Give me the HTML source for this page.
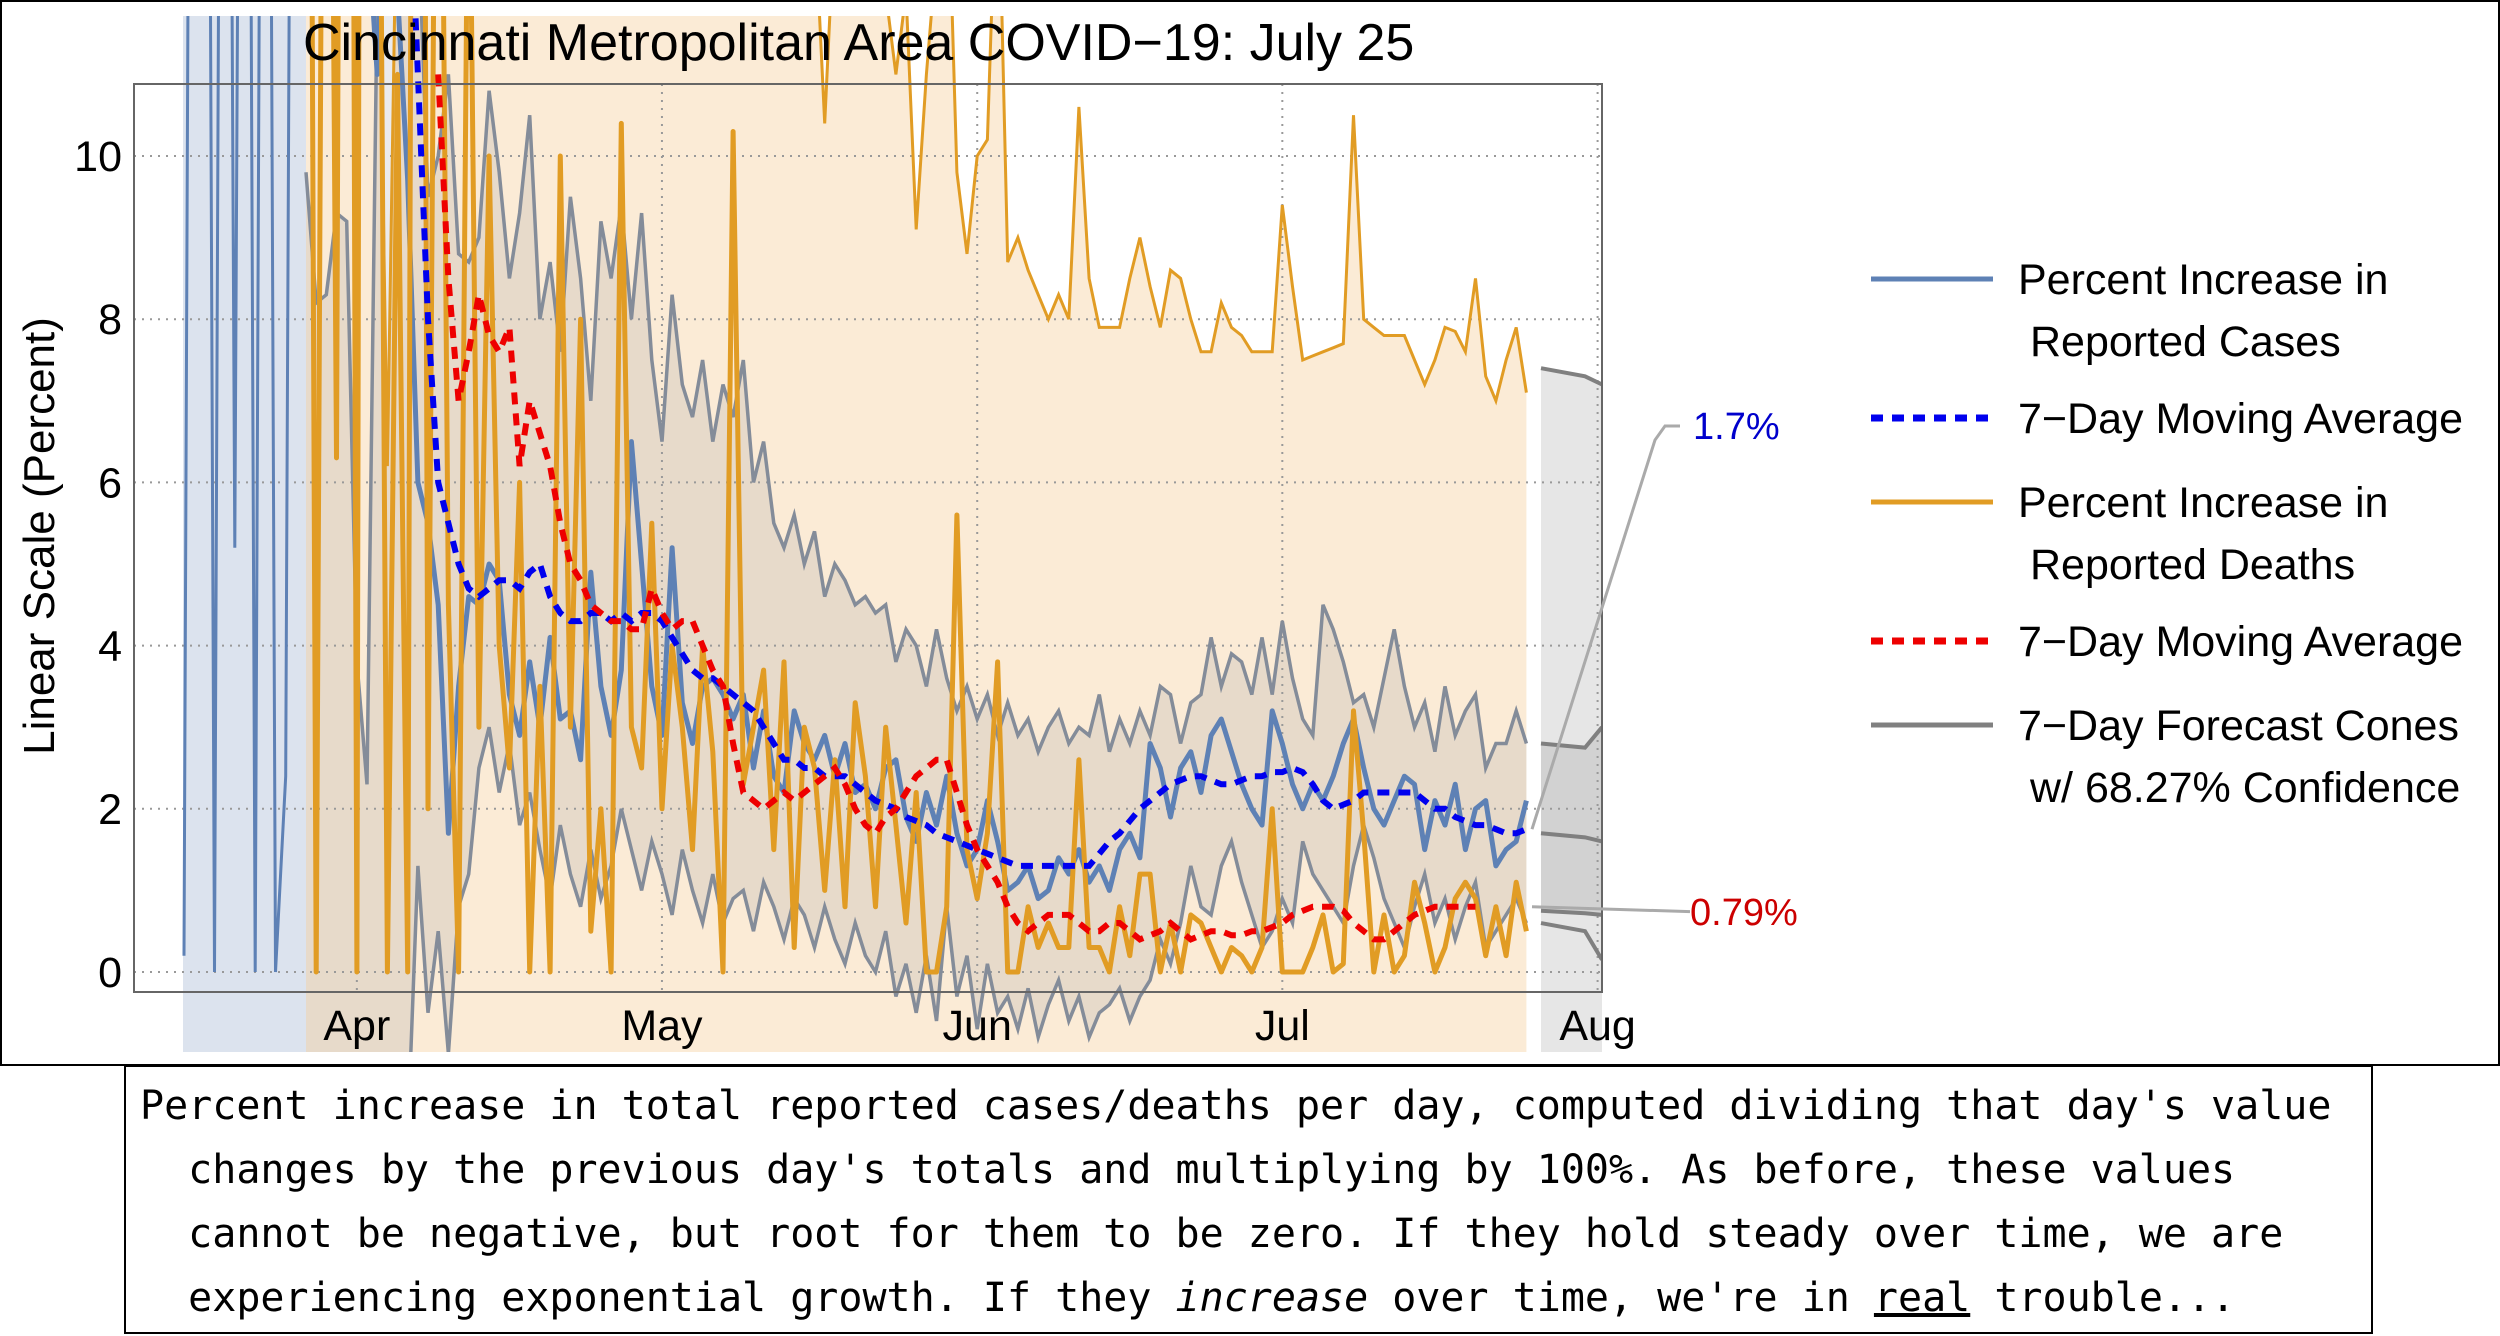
<!DOCTYPE html>
<html><head><meta charset="utf-8"><style>
body{margin:0;background:#fff;width:2500px;height:1336px;overflow:hidden;position:relative}
svg{position:absolute;left:0;top:0}
#cap{position:absolute;left:124px;top:1065px;width:2249px;height:269px;border:2px solid #000;box-sizing:border-box;font-family:"DejaVu Sans Mono","Liberation Mono",monospace;font-size:40px;line-height:64px;color:#000;padding:7px 0 0 14px;white-space:pre}
</style></head><body>
<svg id="chart" width="2500" height="1066"></svg>
<div id="cap">Percent increase in total reported cases/deaths per day, computed dividing that day's value
  changes by the previous day's totals and multiplying by 100%. As before, these values
  cannot be negative, but root for them to be zero. If they hold steady over time, we are
  experiencing exponential growth. If they <i>increase</i> over time, we're in <u>real</u> trouble...</div>
<script>
// data: day 0 = Mar 27
const earlyCases=[0.2,30,30,0,30,5.2,30,0,30,0,2.4,30];
const cases=[18,14,22,16,12,15,13,11,14,12,9.7,6,5.5,4.5,1.7,3.5,4.6,4.5,5,4.8,3.4,2.9,3.8,3,4.1,3.1,3.2,2.6,4.9,3.5,2.9,3.7,6.5,5,3.5,2.9,5.2,3.3,2.8,3.5,3.6,3.4,3.1,3.4,2.5,3.2,2.4,2.2,3.2,2.8,2.6,2.9,2.4,2.8,2.2,2.3,2,2.5,2.6,1.9,1.6,2.2,1.8,2.4,1.7,1.3,1.5,2.1,1.6,1.0,1.1,1.3,0.9,1.0,1.4,1.2,1.5,1.1,1.3,1.0,1.5,1.7,1.4,2.8,2.5,1.9,2.5,2.7,2.2,2.9,3.1,2.7,2.3,2.0,1.8,3.2,2.8,2.3,2.0,2.3,2.1,2.4,2.8,3.1,2.5,2.0,1.8,2.1,2.4,2.3,1.5,2.1,1.8,2.3,1.5,2.0,2.1,1.3,1.5,1.6,2.1];
const casesMA=[null,null,null,null,null,null,null,null,null,null,14,11,8,6,5.5,5,4.7,4.6,4.7,4.8,4.8,4.7,4.9,5.0,4.6,4.4,4.3,4.3,4.4,4.4,4.3,4.4,4.3,4.4,4.4,4.3,4.1,3.9,3.7,3.6,3.6,3.5,3.4,3.3,3.2,3.0,2.8,2.6,2.6,2.5,2.5,2.4,2.4,2.4,2.3,2.2,2.1,2.05,2.0,1.9,1.85,1.8,1.7,1.65,1.6,1.55,1.5,1.45,1.4,1.35,1.3,1.3,1.3,1.3,1.3,1.3,1.3,1.3,1.45,1.6,1.7,1.85,2.0,2.1,2.2,2.3,2.35,2.4,2.4,2.35,2.3,2.3,2.35,2.4,2.4,2.45,2.45,2.5,2.45,2.3,2.1,2.0,2.05,2.1,2.2,2.2,2.2,2.2,2.2,2.2,2.1,2.0,2.0,1.9,1.85,1.8,1.8,1.75,1.7,1.7,1.75];
const deaths=[30,0,25,6.3,40,0,60,20,0,11,0,40,2,20,4.5,0,15,3,10,4,2.5,6,0,3.5,0,10,3,8,0.5,2,0,10.4,3,2.5,5.5,2,4,3,1.5,4,2.7,0,10.3,2.3,3,3.7,1.5,3.8,0.3,3,2.5,1,2.6,0.8,3.3,2.4,0.8,3,1.8,0.6,2.2,0,0,0.8,5.6,1.5,0.9,1.7,3.8,0,0,0.8,0.3,0.6,0.3,0.3,2.6,0.3,0.3,0,0.8,0.2,1.2,1.2,0,0.6,0,0.7,0.6,0.3,0,0.3,0.2,0,0.3,2.0,0,0,0,0.3,0.7,0,0.1,3.2,1.7,0,0.7,0,0.2,1.1,0.6,0,0.3,0.9,1.1,0.9,0.2,0.8,0.2,1.1,0.5];
const deathsMA=[null,null,null,null,null,null,null,null,null,null,null,null,null,11,8.5,7.0,7.6,8.3,7.8,7.6,7.9,6.2,7.0,6.6,6.2,5.5,5.0,4.8,4.5,4.4,4.3,4.3,4.2,4.2,4.7,4.4,4.2,4.3,4.3,4.0,3.7,3.5,2.8,2.2,2.1,2.0,2.1,2.2,2.1,2.2,2.3,2.4,2.5,2.3,2.0,1.8,1.7,1.9,2.0,2.2,2.4,2.5,2.6,2.6,2.2,1.8,1.5,1.3,1.1,0.8,0.6,0.5,0.6,0.7,0.7,0.7,0.6,0.5,0.5,0.6,0.6,0.5,0.4,0.45,0.5,0.6,0.5,0.4,0.45,0.5,0.5,0.45,0.45,0.5,0.5,0.55,0.6,0.7,0.75,0.8,0.8,0.8,0.75,0.6,0.5,0.4,0.4,0.5,0.6,0.7,0.75,0.8,0.8,0.8,0.8,0.8,null,null,null,null,null];
const caseUpper=[9.8,8.2,8.3,9.3,9.2,3.8,2.3,12,14,14,14,13,9.5,10,11,8.8,8.7,9,10.8,9.8,8.5,9.3,10.5,8,8.7,7.6,9.5,8.5,7,9.2,8.5,9.4,8.0,9.3,7.5,6.5,8.3,7.2,6.8,7.5,6.5,7.2,6.8,7.5,6.0,6.5,5.5,5.2,5.6,5.0,5.4,4.6,5.0,4.8,4.5,4.6,4.4,4.5,3.8,4.2,4.0,3.5,4.2,3.6,3.2,3.5,3.1,3.4,2.9,3.3,2.9,3.1,2.7,3,3.2,2.8,3,2.9,3.4,2.7,3.1,2.8,3.2,2.9,3.5,3.4,2.8,3.3,3.4,4.1,3.5,3.9,3.8,3.4,4.1,3.4,4.3,3.6,3.1,2.9,4.5,4.2,3.8,3.3,3.4,3.0,3.6,4.2,3.5,3.0,3.3,2.7,3.5,2.9,3.2,3.4,2.5,2.8,2.8,3.2,2.8];
const caseLower=[-3,-3,-3,-3,-3,-3,-3,-3,-3,-3,-2,1.3,-0.5,0.5,-1,0.8,1.2,2.5,3.0,2.2,2.8,1.8,2.2,1.5,0.9,1.8,1.2,0.8,1.5,0.9,1.3,2.0,1.5,1.0,1.6,1.2,0.7,1.5,1.0,0.6,1.2,0.6,0.9,1.0,0.5,1.1,0.8,0.4,0.9,0.7,0.3,0.8,0.4,0.1,0.6,0.2,0.0,0.5,-0.3,0.1,-0.5,0.2,-0.6,0.8,-0.3,0.2,-0.7,0.1,-0.5,-0.3,-0.7,-0.2,-0.8,-0.4,-0.1,-0.6,-0.3,-0.8,-0.5,-0.4,-0.2,-0.6,-0.3,-0.1,0.4,0.1,0.6,1.3,0.8,0.7,1.3,1.6,1.1,0.7,0.3,0.5,0.9,0.6,1.6,1.2,1.0,0.8,0.6,1.3,1.8,1.4,0.9,0.6,0.3,0.8,1.2,0.6,0.9,0.4,0.8,1.1,0.3,0.5,0.7,0.9,0.6];
const deathUpper=[14,14,14,14,14,14,14,14,6.2,14,14,14,14,14,14,14,14,14,14,14,14,14,14,14,14,14,14,14,14,14,14,14,14,14,14,14,14,14,14,14,14,14,14,14,14,14,14,14,14,12.5,13,10.4,13,14,14,12.5,14,12,11,12,9.1,11,12.5,14,9.8,8.8,10,10.2,14,8.7,9,8.6,8.3,8.0,8.3,8.0,10.6,8.5,7.9,7.9,7.9,8.5,9.0,8.4,7.9,8.6,8.5,8.0,7.6,7.6,8.2,7.9,7.8,7.6,7.6,7.6,9.4,8.4,7.5,7.55,7.6,7.65,7.7,10.5,8.0,7.9,7.8,7.8,7.8,7.5,7.2,7.5,7.9,7.85,7.6,8.5,7.3,7.0,7.5,7.9,7.1];
const yTicks=[0,2,4,6,8,10];
const monthLabels=["Apr","May","Jun","Jul","Aug"];
const monthDays=[5,35,66,96,127];
const fcCaseUpper=[2.8,2.75,3.0], fcCaseMid=[1.7,1.65,1.6], fcCaseLow=[0.75,0.72,0.7], fcDeathUp=[7.4,7.3,7.2], fcDeathLow=[0.6,0.5,0.15];

const NS="http://www.w3.org/2000/svg";
const svg=document.getElementById('chart');
const X0=306,DX=10.17,Y0=972,DY=81.6;
const xs=d=>X0+d*DX, ys=v=>Y0-v*DY;
function el(t,a,p){const e=document.createElementNS(NS,t);for(const k in a)e.setAttribute(k,a[k]);(p||svg).appendChild(e);return e;}
function pts(arr,off){const o=[];arr.forEach((v,i)=>{if(v!==null)o.push(xs(i+(off||0)).toFixed(1)+','+ys(v).toFixed(1));});return o.join(' ');}

el('rect',{x:1,y:1,width:2498,height:1064,fill:'#fff',stroke:'#000','stroke-width':2});
const defs=el('defs',{});
const cp=el('clipPath',{id:'clip'},defs);el('rect',{x:134,y:16,width:1468,height:1036},cp);
const g=el('g',{'clip-path':'url(#clip)'});
let e=el('rect',{x:183,y:16,width:123,height:1036,fill:'#DCE3EE'},g);

e=el('polygon',{points:xs(0)+',1052 '+pts(deathUpper)+' '+xs(deathUpper.length-1)+',1052',fill:'#FBEBD6'},g);

const fx=[1541,1585,1602];
function fp(a){return a.map((v,i)=>fx[i]+','+ys(v)).join(' ');}
function fpr(a){return a.map((v,i)=>fx[i]+','+ys(v)).reverse().join(' ');}
e=el('polygon',{points:fp(fcDeathUp)+' 1602,1052 1541,1052',fill:'#E6E6E6'},g);

e=el('polygon',{points:fp(fcCaseUpper)+' '+fpr(fcCaseLow),fill:'#D2D2D2'},g);

const cu=pts(caseUpper), cl=caseLower.map((v,i)=>xs(i)+','+ys(v)).reverse().join(' ');
e=el('polygon',{points:cu+' '+cl,fill:'rgba(120,120,135,0.15)'},g);

yTicks.forEach(v=>{const l=el('line',{x1:134,x2:1602,y1:ys(v),y2:ys(v),stroke:'#999','stroke-width':2,'stroke-dasharray':'2,6'},g);
});
monthDays.forEach(d=>{const l=el('line',{x1:xs(d),x2:xs(d),y1:84,y2:992,stroke:'#999','stroke-width':2,'stroke-dasharray':'2,6'},g);
});
e=el('polyline',{points:pts(earlyCases,-12)+' '+xs(0)+','+ys(cases[0]),fill:'none',stroke:'#5E81B5','stroke-width':3},g);

e=el('polyline',{points:cu,fill:'none',stroke:'#848C99','stroke-width':3.5},g);

e=el('polyline',{points:pts(caseLower),fill:'none',stroke:'#848C99','stroke-width':3.5},g);

e=el('polyline',{points:pts(deathUpper),fill:'none',stroke:'#E19C24','stroke-width':3},g);

[[fcDeathUp,'forecast-deaths-upper'],[fcCaseUpper,'forecast-cases-upper'],[fcCaseMid,'forecast-cases-mid'],[fcCaseLow,'forecast-cases-lower'],[fcDeathLow,'forecast-deaths-lower']].forEach(a=>{
const l=el('polyline',{points:fp(a[0]),fill:'none',stroke:'#808080','stroke-width':4},g);
});
e=el('polyline',{points:pts(cases),fill:'none',stroke:'#5E81B5','stroke-width':5,'stroke-linejoin':'round'},g);

e=el('polyline',{points:pts(deaths),fill:'none',stroke:'#E19C24','stroke-width':5,'stroke-linejoin':'round'},g);

e=el('polyline',{points:pts(casesMA),fill:'none',stroke:'#0000EE','stroke-width':6,'stroke-dasharray':'12,9'},g);

e=el('polyline',{points:pts(deathsMA),fill:'none',stroke:'#EE0000','stroke-width':6,'stroke-dasharray':'12,9'},g);

e=el('rect',{x:134,y:84,width:1468,height:908,fill:'none',stroke:'#666','stroke-width':2});

const F='font-family:"Liberation Sans",sans-serif;';
yTicks.forEach(v=>{const t=el('text',{x:122,y:ys(v)+15,'text-anchor':'end',style:F+'font-size:43px'});t.textContent=v;
});
monthLabels.forEach((m,i)=>{const t=el('text',{x:xs(monthDays[i]),y:1040,'text-anchor':'middle',style:F+'font-size:43px'});t.textContent=m;
});
e=el('text',{x:0,y:0,transform:'translate(54,536) rotate(-90)','text-anchor':'middle',style:F+'font-size:44px'});e.textContent='Linear Scale (Percent)';

e=el('text',{x:303,y:60,style:F+'font-size:52px'});e.textContent='Cincinnati Metropolitan Area COVID\u221219: July 25';

e=el('polyline',{points:'1532,'+ys(1.75)+' 1655,440 1665,426 1680,426',fill:'none',stroke:'#aaa','stroke-width':3});

e=el('polyline',{points:'1532,'+ys(0.8)+' 1690,'+ys(0.74),fill:'none',stroke:'#aaa','stroke-width':3});

e=el('text',{x:1693,y:439,fill:'#0000CC',style:F+'font-size:38px'});e.textContent='1.7%';

e=el('text',{x:1690,y:925,fill:'#CC0000',style:F+'font-size:38px'});e.textContent='0.79%';

const lg=[[279,'#5E81B5',null,'Percent Increase in','Reported Cases'],[418,'#0000EE','12,9','7\u2212Day Moving Average',null],[502,'#E19C24',null,'Percent Increase in','Reported Deaths'],[641,'#EE0000','12,9','7\u2212Day Moving Average',null],[725,'#808080',null,'7\u2212Day Forecast Cones','w/ 68.27% Confidence']];
lg.forEach(r=>{const gg=el('g',{});
const a={x1:1871,x2:1993,y1:r[0],y2:r[0],stroke:r[1],'stroke-width':r[2]?7:5};if(r[2])a['stroke-dasharray']=r[2];el('line',a,gg);
let t=el('text',{x:2018,y:r[0]+15,style:F+'font-size:43px'},gg);t.textContent=r[3];
if(r[4]){t=el('text',{x:2030,y:r[0]+77,style:F+'font-size:43px'},gg);t.textContent=r[4];}});
</script>
</body></html>
